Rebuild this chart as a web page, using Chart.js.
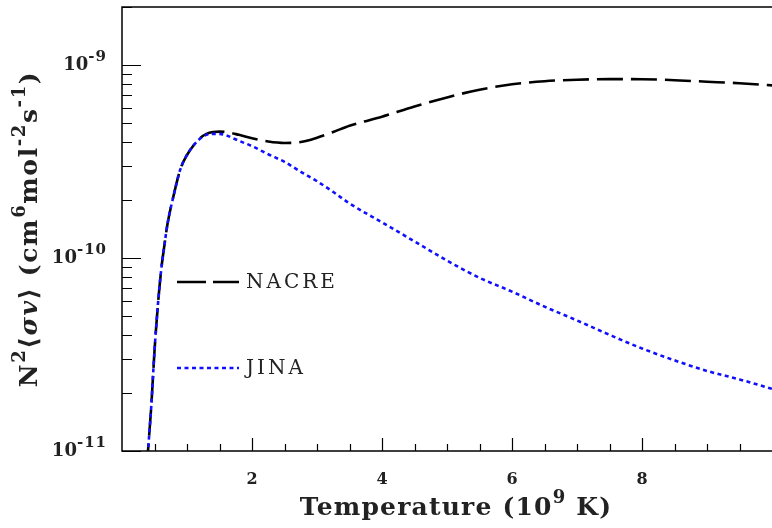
<!DOCTYPE html>
<html>
<head>
<meta charset="utf-8">
<script src="https://cdn.jsdelivr.net/npm/chart.js@4.4.1/dist/chart.umd.min.js"></script>
<style>
  html, body { margin: 0; padding: 0; background: #fff; }
  #wrap { width: 772px; height: 528px; }
</style>
</head>
<body>
<div id="wrap"><canvas id="rate" width="772" height="528"></canvas></div>
<script>
// temperature in 10^9 K
const temperature = [0.38, 0.40, 0.45, 0.50, 0.55, 0.60, 0.65, 0.70, 0.80, 0.90, 1.00, 1.10, 1.20, 1.30, 1.40, 1.50, 1.60, 1.80, 2.00, 2.25, 2.50, 2.75, 3.00, 3.25, 3.50, 4.00, 4.50, 5.00, 5.50, 6.00, 6.50, 7.00, 7.50, 8.00, 8.50, 9.00, 9.50, 10.0];
// rates in units of 1e-10 cm^6 mol^-2 s^-1
const nacre = [0.08, 0.10, 0.17, 0.33, 0.56, 0.85, 1.15, 1.5, 2.15, 2.9, 3.42, 3.83, 4.18, 4.4, 4.5, 4.52, 4.5, 4.35, 4.18, 4.02, 3.95, 3.99, 4.2, 4.5, 4.85, 5.4, 6.1, 6.8, 7.45, 7.95, 8.25, 8.4, 8.46, 8.45, 8.35, 8.2, 8.05, 7.85];
const jina = [0.08, 0.10, 0.17, 0.33, 0.56, 0.85, 1.15, 1.5, 2.15, 2.9, 3.42, 3.83, 4.15, 4.35, 4.4, 4.4, 4.33, 4.05, 3.8, 3.45, 3.15, 2.8, 2.5, 2.2, 1.92, 1.53, 1.22, 0.97, 0.79, 0.67, 0.56, 0.475, 0.40, 0.34, 0.295, 0.26, 0.235, 0.21];
const seriesNames = ['NACRE', 'JINA'];
const xTicks = [2, 4, 6, 8];
const yTicks = [1e-11, 1e-10, 1e-9];

function points(vals) {
  return temperature.map((t, i) => ({ x: t, y: vals[i] * 1e-10 }));
}

const serif = '"DejaVu Serif", "Liberation Serif", serif';
const ink = '#222';

// text made of pieces; sup pieces are raised and smaller
function richText(ctx, parts, x, y, base, spacing) {
  ctx.letterSpacing = spacing + 'px';
  let w = 0;
  parts.forEach(p => {
    ctx.font = (p.sup ? 'bold ' + Math.round(base * 0.72) : (p.it ? 'italic bold ' : 'bold ') + base) + 'px ' + serif;
    p.w = ctx.measureText(p.t).width;
    w += p.w;
  });
  let cx = x - w / 2;
  ctx.textAlign = 'left';
  ctx.textBaseline = 'alphabetic';
  parts.forEach(p => {
    ctx.font = (p.sup ? 'bold ' + Math.round(base * 0.72) : (p.it ? 'italic bold ' : 'bold ') + base) + 'px ' + serif;
    ctx.fillText(p.t, cx, p.sup ? y - base * 0.5 : y);
    cx += p.w;
  });
  ctx.letterSpacing = '0px';
}

const decor = {
  id: 'decor',
  afterDatasetsDraw(chart) {
    const ctx = chart.ctx;
    const a = chart.chartArea;
    const xs = chart.scales.x, ys = chart.scales.y;
    ctx.save();
    ctx.strokeStyle = '#000';
    ctx.lineWidth = 1.5;
    ctx.beginPath();
    ctx.moveTo(a.right, a.top); ctx.lineTo(a.left, a.top);
    ctx.lineTo(a.left, a.bottom); ctx.lineTo(a.right, a.bottom);
    ctx.stroke();

    ctx.lineWidth = 1.2;
    ctx.beginPath();
    for (let v = 0.5; v < xs.max; v += 0.5) {
      const px = Math.round(xs.getPixelForValue(v)) + 0.5;
      const len = (v % 2 === 0) ? 13 : 7;
      ctx.moveTo(px, a.bottom); ctx.lineTo(px, a.bottom - len);
    }
    for (let d = -11; d <= -9; d++) {
      for (let m = 1; m <= 9; m++) {
        const v = m * Math.pow(10, d);
        if (v > ys.max) break;
        const py = Math.round(ys.getPixelForValue(v)) + 0.5;
        const len = m === 1 ? 19 : 10;
        ctx.moveTo(a.left, py); ctx.lineTo(a.left + len, py);
      }
    }
    ctx.stroke();

    // y tick labels 10^n
    ctx.fillStyle = ink;
    ctx.textBaseline = 'alphabetic';
    ys.ticks.forEach(t => {
      const py = ys.getPixelForValue(t.value);
      const exp = String(Math.round(Math.log10(t.value)));
      ctx.font = 'bold 15px ' + serif;
      ctx.letterSpacing = '1px';
      const ew = ctx.measureText(exp).width;
      ctx.textAlign = 'right';
      ctx.fillText(exp, 107, py - 4);
      ctx.letterSpacing = '0px';
      ctx.font = 'bold 18px ' + serif;
      ctx.fillText('10', 107 - ew, py + 5);
    });

    // axis titles
    richText(ctx, [{ t: 'Temperature (10' }, { t: '9', sup: true }, { t: ' K)' }], 456, 515, 25, 1.2);
    ctx.save();
    ctx.translate(37, 229);
    ctx.rotate(-Math.PI / 2);
    richText(ctx, [
      { t: 'N' }, { t: '2', sup: true }, { t: '⟨' }, { t: 'σv', it: true }, { t: '⟩ (cm' },
      { t: '6', sup: true }, { t: 'mol' }, { t: '-2', sup: true }, { t: 's' }, { t: '-1', sup: true }, { t: ')' }
    ], 0, 0, 25, 1.6);
    ctx.restore();

    // legend
    const rows = [282, 368];
    chart.data.datasets.forEach((ds, i) => {
      const y = rows[i];
      ctx.strokeStyle = ds.borderColor;
      ctx.lineWidth = ds.borderWidth;
      ctx.setLineDash(ds.legendDash);
      ctx.beginPath();
      ctx.moveTo(177, y); ctx.lineTo(239, y);
      ctx.stroke();
      ctx.setLineDash([]);
      ctx.fillStyle = ink;
      ctx.font = '20px ' + serif;
      ctx.letterSpacing = '3px';
      ctx.textAlign = 'left';
      ctx.textBaseline = 'middle';
      ctx.fillText(ds.label, 246, y + 1);
      ctx.letterSpacing = '0px';
    });
    ctx.restore();
  }
};

new Chart(document.getElementById('rate'), {
  type: 'line',
  data: {
    datasets: [
      {
        label: seriesNames[0],
        data: points(nacre),
        borderColor: '#000',
        borderWidth: 2.6,
        borderDash: [26, 8],
        legendDash: [29, 7],
        order: 1
      },
      {
        label: seriesNames[1],
        data: points(jina),
        borderColor: '#1010ff',
        borderWidth: 2.6,
        borderDash: [4, 3.5],
        legendDash: [4, 3.5],
        order: 0
      }
    ]
  },
  options: {
    responsive: false,
    animation: false,
    parsing: false,
    elements: {
      point: { radius: 0 },
      line: { cubicInterpolationMode: 'monotone', fill: false }
    },
    layout: { padding: { top: 7, right: 0, left: 0, bottom: 0 } },
    plugins: { legend: { display: false }, tooltip: { enabled: false } },
    scales: {
      x: {
        type: 'linear',
        min: 0,
        max: 10,
        afterBuildTicks: s => { s.ticks = xTicks.map(v => ({ value: v })); },
        afterFit: s => { s.height = 77; },
        grid: { display: false, drawTicks: false },
        border: { display: false },
        ticks: {
          color: ink,
          font: { family: serif, size: 16, weight: 'bold' },
          padding: 19,
          maxRotation: 0
        }
      },
      y: {
        type: 'logarithmic',
        min: 1e-11,
        max: 2e-9,
        afterBuildTicks: s => { s.ticks = yTicks.map(v => ({ value: v })); },
        afterFit: s => { s.width = 122; },
        grid: { display: false, drawTicks: false },
        border: { display: false },
        ticks: { display: false }
      }
    }
  },
  plugins: [decor]
});
</script>
</body>
</html>
